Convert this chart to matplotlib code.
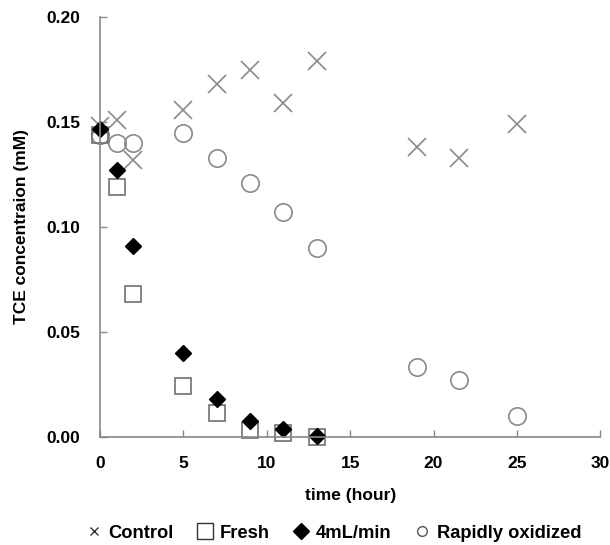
import matplotlib
matplotlib.use("Agg")
import matplotlib.pyplot as plt
from matplotlib.lines import Line2D

plt.rcParams['font.family'] = ['Liberation Sans', 'DejaVu Sans']
plt.rcParams['font.weight'] = 'bold'

# data
t_control = [0, 1, 2, 5, 7, 9, 11, 13, 19, 21.5, 25]
control = [0.148, 0.151, 0.132, 0.156, 0.168, 0.175, 0.159, 0.179, 0.138, 0.133, 0.149]

t_fresh = [0, 1, 2, 5, 7, 9, 11, 13]
fresh = [0.144, 0.119, 0.068, 0.024, 0.011, 0.003, 0.0015, 0.0]

t_flow = [0, 1, 2, 5, 7, 9, 11, 13]
flow = [0.147, 0.127, 0.091, 0.040, 0.018, 0.0075, 0.0035, 0.0003]

t_ox = [0, 1, 2, 5, 7, 9, 11, 13, 19, 21.5, 25]
oxid = [0.144, 0.140, 0.140, 0.145, 0.133, 0.121, 0.107, 0.090, 0.033, 0.027, 0.010]

grey = '#8a8a8a'

fig = plt.figure(figsize=(6.1, 5.45), dpi=100)
ax = fig.add_axes([0.164, 0.199, 0.820, 0.769])

ax.plot(t_control, control, ls='none', marker='x', ms=13, mew=1.2, color=grey, clip_on=False)
ax.plot(t_ox, oxid, ls='none', marker='o', ms=12.5, mfc='none', mew=1.2, mec=grey, clip_on=False)
ax.plot(t_fresh, fresh, ls='none', marker='s', ms=12, mfc='none', mew=1.2, mec='#707070', clip_on=False)
ax.plot(t_flow, flow, ls='none', marker='D', ms=8.5, color='black', clip_on=False)

ax.set_xlim(0, 30)
ax.set_ylim(0, 0.20)
ax.set_xticks([0, 5, 10, 15, 20, 25, 30])
ax.set_yticks([0.00, 0.05, 0.10, 0.15, 0.20])
ax.set_yticklabels(['0.00', '0.05', '0.10', '0.15', '0.20'])
ax.tick_params(direction='in', length=5, width=1, color='#888888', labelsize=12.5, pad=14)
for lab in ax.get_xticklabels() + ax.get_yticklabels():
    lab.set_fontweight('bold')
for s in ['top', 'right']:
    ax.spines[s].set_visible(False)
for s in ['left', 'bottom']:
    ax.spines[s].set_color('#888888')
    ax.spines[s].set_linewidth(1.2)

ax.set_xlabel('time (hour)', fontsize=12.5, fontweight='bold', labelpad=12)
ax.set_ylabel('TCE concentraion (mM)', fontsize=12.5, fontweight='bold', labelpad=13)

handles = [
    Line2D([], [], ls='none', marker='x', ms=6, mew=1, color='#333333'),
    Line2D([], [], ls='none', marker='s', ms=11, mfc='none', mew=1, mec='#333333'),
    Line2D([], [], ls='none', marker='D', ms=8, color='black'),
    Line2D([], [], ls='none', marker='o', ms=7, mfc='none', mew=1, mec='#555555'),
]
fig.legend(handles, ['Control', 'Fresh', '4mL/min', 'Rapidly oxidized'],
           loc='center', bbox_to_anchor=(0.546, 0.022), ncol=4, frameon=False,
           prop={'size': 13.2, 'weight': 'bold'}, handlelength=1.0,
           handletextpad=0.3, columnspacing=1.2)

fig.savefig('out.png', dpi=100)
